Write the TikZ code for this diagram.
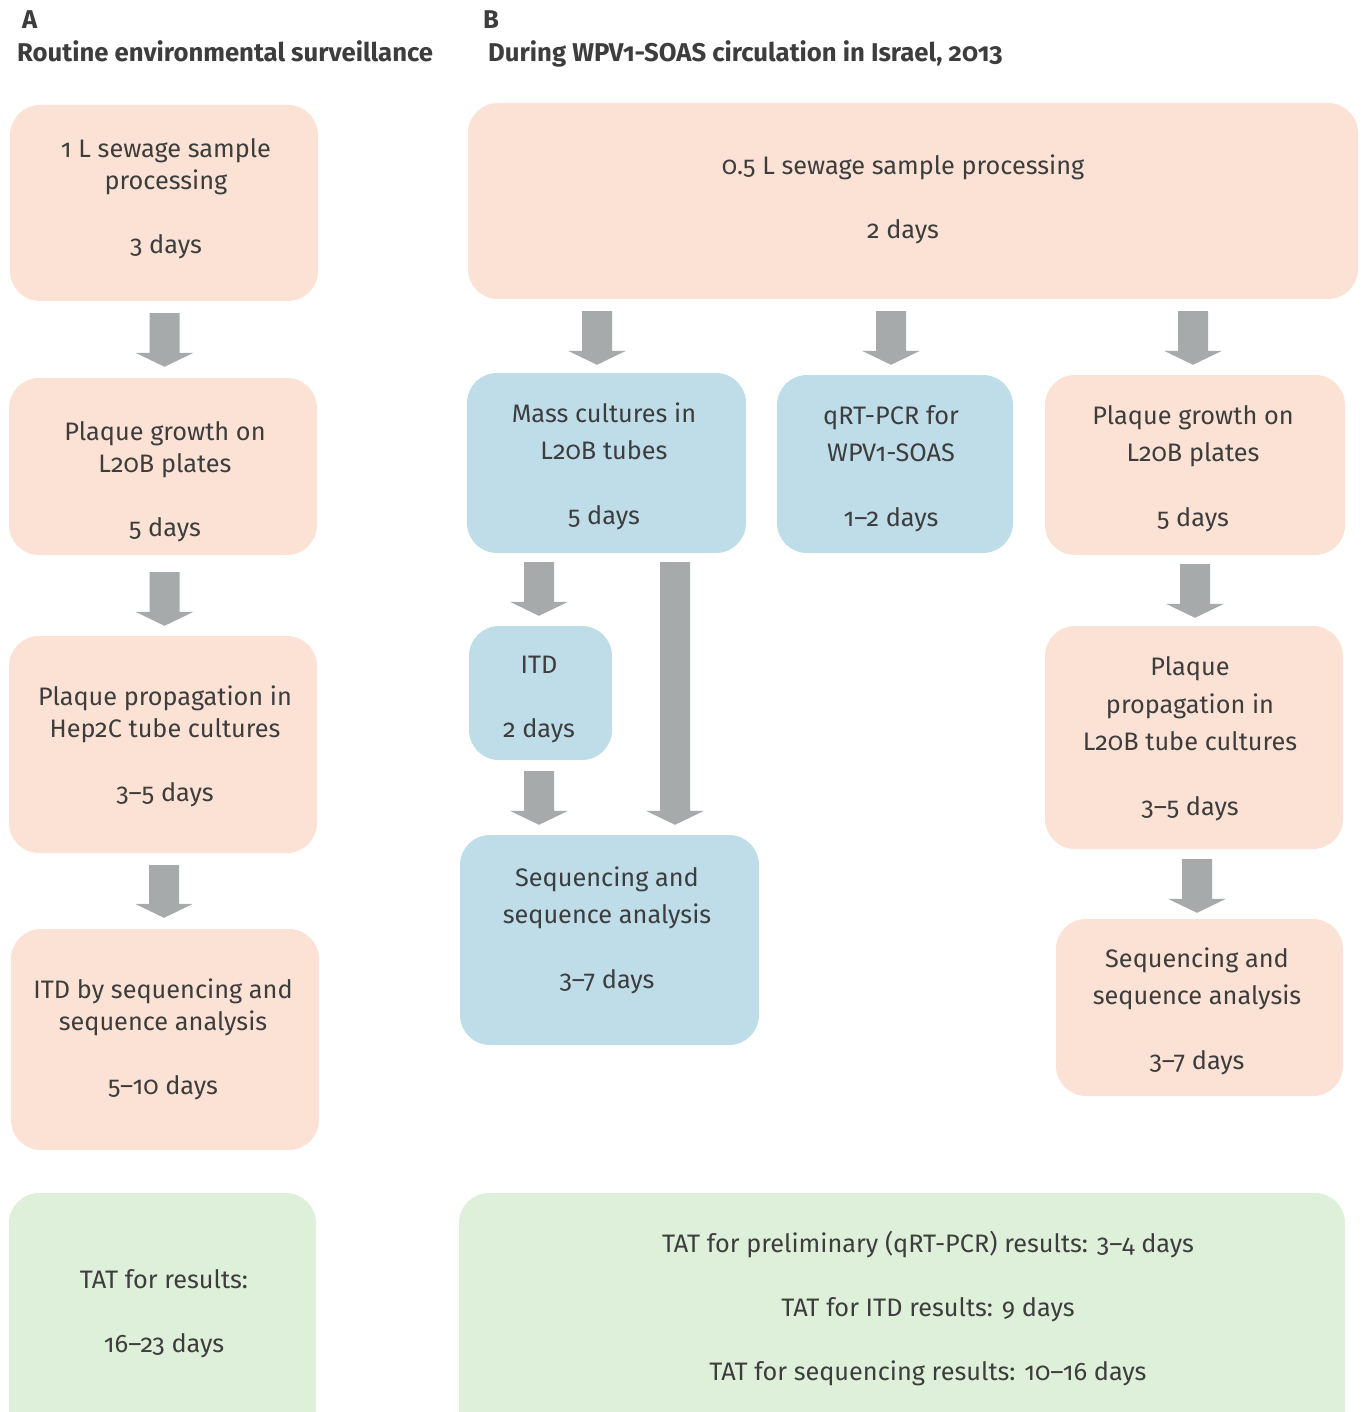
\documentclass[tikz,border=0pt]{standalone}
\usepackage{fontspec}
\setmainfont{Fira Sans}[Numbers=OldStyle]
\usetikzlibrary{fit,calc}
\definecolor{peach}{HTML}{FBE2D5}
\definecolor{skyb}{HTML}{BEDDE9}
\definecolor{mint}{HTML}{DFF0DA}
\definecolor{arrgrey}{HTML}{A6AAAB}
\definecolor{ink}{HTML}{3D3D3D}
\begin{document}
\begin{tikzpicture}[x=1pt,y=-1pt,
  box/.style={draw=none,rounded corners=30pt,inner sep=0pt,rectangle},
  pbox/.style={box,fill=peach},
  bbox/.style={box,fill=skyb},
  gbox/.style={box,fill=mint},
  txta/.style={anchor=base,align=center,inner sep=0pt,text=ink,font=\fontsize{25.3}{32}\selectfont},
  txtb/.style={anchor=base,align=center,inner sep=0pt,text=ink,font=\fontsize{25.3}{37.5}\selectfont},
  head/.style={anchor=base west,inner sep=0pt,text=ink,font=\fontsize{25.7}{28}\selectfont\bfseries},
  blockarr/.style={fill=arrgrey,draw=none,to path={let \p1=(\tikztostart),\p2=(\tikztotarget) in
     (\x1-15pt,\y1) -- (\x1+15pt,\y1) -- (\x1+15pt,\y2+14pt) -- (\x1+29pt,\y2+14pt) -- (\x1,\y2)
     -- (\x1-29pt,\y2+14pt) -- (\x1-15pt,\y2+14pt) -- cycle}}
]
\useasboundingbox (0,0) rectangle (1364,1412);
\clip (0,0) rectangle (1364,1412);

% headings
\node[head] (hA) at (22,29) {A};
\node[head] (hAt) at (17,62) {Routine environmental surveillance};
\node[head] (hB) at (483,29) {B};
\node[head] (hBt) at (488,62) {During WPV1-SOAS circulation in Israel, 2013};

% panel A boxes
\node[pbox,fit={(10,105) (318,301)}] (a1) {};
\node[pbox,fit={(9,378) (317,555)}] (a2) {};
\node[pbox,fit={(9,636) (317,853)}] (a3) {};
\node[pbox,fit={(11,929) (319,1150)}] (a4) {};
\node[gbox,fit={(9,1193) (316,1450)}] (a5) {};

% text nodes: anchor=base is the baseline of the last line
\node[txta] (a1t) at (166,254) {1 L sewage sample\\processing\\[32pt]3 days};
\node[txta] (a2t) at (165,536) {Plaque growth on\\L20B plates\\[32pt]5 days};
\node[txta] (a3t) at (165,801) {Plaque propagation in\\Hep2C tube cultures\\[32pt]3–5 days};
\node[txta] (a4t) at (163,1094) {ITD by sequencing and\\sequence analysis\\[32pt]5–10 days};
\node[txta] (a5t) at (164,1352) {TAT for results:\\[32pt]16–23 days};

% panel B boxes
\node[pbox,fit={(468,103) (1358,299)}] (top) {};
\node[bbox,fit={(467,373) (746,553)}] (b1) {};
\node[bbox,fit={(777,375) (1013,553)}] (b2) {};
\node[pbox,fit={(1045,375) (1345,555)}] (b3) {};
\node[bbox,fit={(469,626) (612,760)}] (itd) {};
\node[bbox,fit={(460,835) (759,1045)}] (seqb) {};
\node[pbox,fit={(1045,626) (1343,849)}] (propb) {};
\node[pbox,fit={(1056,919) (1343,1096)}] (seqr) {};
\node[gbox,fit={(459,1193) (1345,1450)}] (gb) {};

\node[txta] (topt) at (903,239) {0.5 L sewage sample processing\\[32pt]2 days};
\node[txtb] (b1t) at (604,524) {Mass cultures in\\L20B tubes\\[27pt]5 days};
\node[txtb] (b2t) at (891,526) {qRT-PCR for\\WPV1-SOAS\\[27pt]1–2 days};
\node[txtb] (b3t) at (1193,526) {Plaque growth on\\L20B plates\\[27pt]5 days};
\node[txta] (itdt) at (539,737) {ITD\\[32pt]2 days};
\node[txtb] (seqbt) at (607,988) {Sequencing and\\sequence analysis\\[27pt]3–7 days};
\node[txtb] (propbt) at (1190,815) {Plaque\\propagation in\\L20B tube cultures\\[27pt]3–5 days};
\node[txtb] (seqrt) at (1197,1069) {Sequencing and\\sequence analysis\\[27pt]3–7 days};
\node[txta] (gbt) at (928,1380) {TAT for preliminary (qRT-PCR) results: 3–4 days\\[32pt]TAT for ITD results: 9 days\\[32pt]TAT for sequencing results: 10–16 days};

% arrows panel A
\path[blockarr] ($(a1.south)+(0.5,12)$) to ($(a1.south |- a2.north)+(0.5,-11)$);
\path[blockarr] ($(a2.south)+(1.5,17)$) to ($(a2.south |- a3.north)+(1.5,-10)$);
\path[blockarr] ($(a3.south)+(1,12)$) to ($(a3.south |- a4.north)+(1,-11)$);
% arrows panel B
\path[blockarr] ($(b1.north |- top.south)+(-9.5,12)$) to ($(b1.north)+(-9.5,-8)$);
\path[blockarr] ($(b2.north |- top.south)+(-4,12)$) to ($(b2.north)+(-4,-10)$);
\path[blockarr] ($(b3.north |- top.south)+(-2,12)$) to ($(b3.north)+(-2,-10)$);
\path[blockarr] ($(itd.north |- b1.south)+(-1.5,9)$) to ($(itd.north)+(-1.5,-10)$);
\path[blockarr] ($(seqb.north |- b1.south)+(65.5,9)$) to ($(seqb.north)+(65.5,-10)$);
\path[blockarr] ($(itd.south)+(-1.5,11)$) to ($(itd.south |- seqb.north)+(-1.5,-10)$);
\path[blockarr] ($(propb.north |- b3.south)+(1,9)$) to ($(propb.north)+(1,-8)$);
\path[blockarr] ($(seqr.north |- propb.south)+(-2.5,10)$) to ($(seqr.north)+(-2.5,-6)$);
\end{tikzpicture}
\end{document}
